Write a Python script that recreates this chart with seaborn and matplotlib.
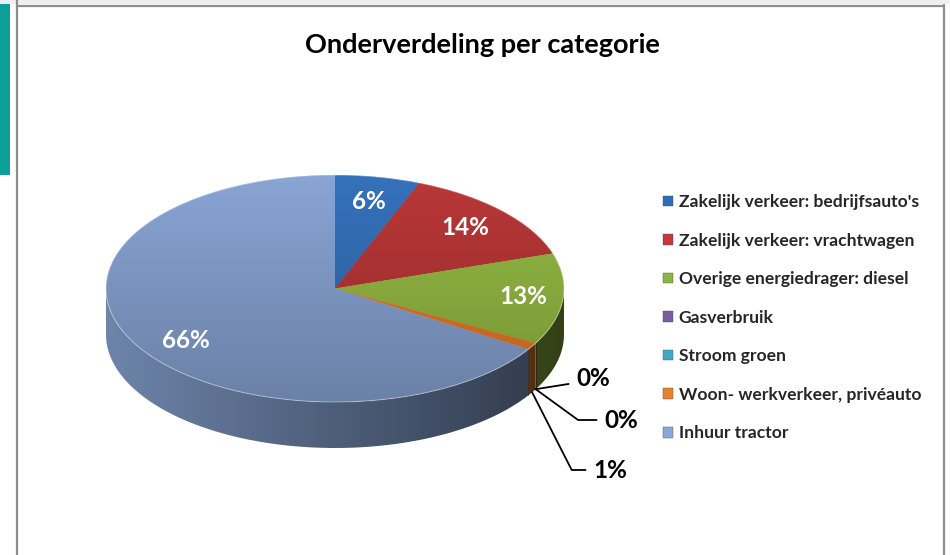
import numpy as np
import matplotlib
matplotlib.use("Agg")
import matplotlib.pyplot as plt
import seaborn as sns
from matplotlib.colors import to_rgb
from matplotlib.patches import Polygon, Rectangle
from matplotlib.lines import Line2D

# ---------------- data ----------------
categories = [
    "Zakelijk verkeer: bedrijfsauto's",
    "Zakelijk verkeer: vrachtwagen",
    "Overige energiedrager: diesel",
    "Gasverbruik",
    "Stroom groen",
    "Woon- werkverkeer, privéauto",
    "Inhuur tractor",
]
values = [6, 14, 13, 0, 0, 1, 66]
pct_labels = ["6%", "14%", "13%", "0%", "0%", "1%", "66%"]
title = "Onderverdeling per categorie"

top_colors = ["#3572bb", "#ba3737", "#96bc44", "#7f5fa6", "#42abc6", "#ea7c28", "#89a5d5"]
legend_colors = ["#2f6bb6", "#c0393b", "#8db544", "#7a5aa0", "#3fa9c3", "#e8822a", "#8ba7d6"]

# ---------------- style ----------------
sns.set_theme(style="white")
plt.rcParams["font.family"] = ["Lato", "DejaVu Sans"]
plt.rcParams["font.weight"] = "bold"

W, H = 950, 555
fig = plt.figure(figsize=(W / 100, H / 100), dpi=100)
fig.patch.set_facecolor("white")

# frame decorations
fig.add_artist(Rectangle((0, 1 - 175 / H), 10 / W, 175 / H, transform=fig.transFigure,
                         color="#0c9e98", lw=0))
fig.add_artist(Rectangle((0, 1 - 4 / H), 1, 4 / H, transform=fig.transFigure,
                         color="#efefef", lw=0))
gray = "#8e8e8e"
fig.add_artist(Line2D([17 / W, 17 / W], [0, 1], transform=fig.transFigure, color=gray, lw=1.6))
fig.add_artist(Line2D([944 / W, 944 / W], [0, 1 - 5 / H], transform=fig.transFigure, color=gray, lw=1.6))
fig.add_artist(Line2D([17 / W, 944 / W], [1 - 5.5 / H, 1 - 5.5 / H], transform=fig.transFigure,
                      color=gray, lw=1.6))

fig.text(482 / W, 1 - 45 / H, title, ha="center", va="center", fontsize=19.5,
         fontweight="bold", color="black")

# ---------------- pie axes ----------------
cx, cy, rx, ry, depth = 335, 288.5, 229, 113.5, 46
D = depth / ry
left = (cx - rx) / W
bottom = 1 - (cy + ry + depth) / H
ax = fig.add_axes([left, bottom, 2 * rx / W, (2 * ry + depth) / H])
ax.set_facecolor("none")

# side (depth) of the 3D pie, drawn from cumulative values
total = float(sum(values))
start = 0.0
for v, c in zip(values, top_colors):
    a0, a1 = start, start + v / total * 360.0
    start = a1
    lo, hi = max(a0, 90.0), min(a1, 270.0)
    if hi <= lo:
        continue
    th = np.radians(np.linspace(lo, hi, 120))
    xs, ys = np.sin(th), np.cos(th)
    pts = np.concatenate([np.c_[xs, ys], np.c_[xs[::-1], ys[::-1] - D]])
    poly = Polygon(pts, closed=True, facecolor="none", edgecolor="none")
    ax.add_patch(poly)
    gx = np.linspace(-1, 1, 300)
    f = 0.80 - 0.46 * (gx + 1) / 2
    base = np.array(to_rgb(c))
    img = np.clip(base[None, None, :] * f[None, :, None], 0, 1)
    im = ax.imshow(img, extent=(-1, 1, -1 - D, 1), aspect="auto", zorder=1,
                   interpolation="bilinear")
    im.set_clip_path(poly)
    for ang in (lo, hi):
        if 90.0 < ang < 270.0:
            t = np.radians(ang)
            ax.plot([np.sin(t)] * 2, [np.cos(t), np.cos(t) - D], color="#1e1e1e",
                    lw=0.6, alpha=0.5, zorder=2)

# top surface drawn with the pie function
wedges, texts, autotexts = ax.pie(
    values, colors=top_colors, startangle=90, counterclock=False, radius=1,
    autopct=lambda p: f"{p:.0f}%" if p >= 2 else "", pctdistance=0.78,
    wedgeprops=dict(linewidth=0, edgecolor="none"),
    textprops=dict(color="white", fontsize=17.5, fontweight="bold"),
)
for w, c in zip(wedges, top_colors):
    w.set_zorder(3)
    gy = np.linspace(1, -1, 200)
    f = 1.0 - 0.22 * (1 - gy) / 2
    base = np.array(to_rgb(c))
    img = np.clip(base[None, None, :] * f[:, None, None], 0, 1)
    img = np.repeat(img, 2, axis=1)
    im = ax.imshow(img, extent=(-1, 1, -1, 1), aspect="auto", zorder=4,
                   interpolation="bilinear")
    im.set_clip_path(w)
for t in autotexts:
    t.set_zorder(6)
    x, y = t.get_position()
    if y < -0.2:
        t.set_position((x * 0.95, y * 1.22))
    elif abs(y) < 0.2:
        t.set_position((x * 1.06, y))

# rim highlight
th = np.linspace(0, 2 * np.pi, 400)
ax.plot(np.sin(th), np.cos(th), color="white", lw=0.8, alpha=0.35, zorder=5)

ax.set_aspect("auto")
ax.set_xlim(-1, 1)
ax.set_ylim(-1 - D, 1)
ax.axis("off")

# leader labels for the small slices
label_pos = {3: (576, 379, 9), 4: (604, 420, -36), 5: (593, 470, -63)}
start = 0.0
for i, v in enumerate(values):
    a0 = start
    start += v / total * 360.0
    if i not in label_pos:
        continue
    mid = np.radians((a0 + start) / 2)
    px, py, angB = label_pos[i]
    ax.annotate(pct_labels[i], xy=(np.sin(mid), np.cos(mid) - D),
                xytext=(px, H - py), textcoords="figure pixels",
                ha="left", va="center", fontsize=17.5, fontweight="bold", color="black",
                annotation_clip=False,
                arrowprops=dict(arrowstyle="-", color="black", lw=1.3,
                                shrinkA=3, shrinkB=0, relpos=(0, 0.5),
                                connectionstyle=f"angle,angleA=0,angleB={angB},rad=0"))

# ---------------- legend ----------------
handles = [Rectangle((0, 0), 1, 1, facecolor=c, edgecolor="#555555", lw=0.3) for c in legend_colors]
fig.legend(handles, categories, loc="upper left", bbox_to_anchor=(663 / W, 1 - 194 / H),
           frameon=False, handlelength=0.55, handleheight=0.55,
           handletextpad=0.35, labelspacing=1.29, borderpad=0, borderaxespad=0,
           prop=dict(family=["Lato", "DejaVu Sans"], weight="bold", size=12.6))

fig.savefig("out.png", dpi=100, facecolor="white")
